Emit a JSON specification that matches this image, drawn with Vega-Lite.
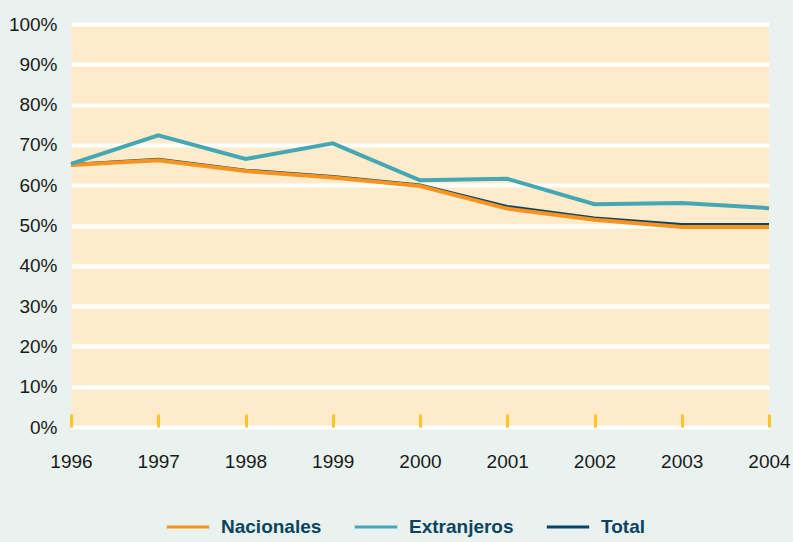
{
  "$schema": "https://vega.github.io/schema/vega-lite/v6.json",
  "width": 698,
  "height": 403,
  "autosize": "none",
  "padding": {"left": 71, "top": 24, "right": 24, "bottom": 115},
  "background": "#e9f2ef",
  "config": {
    "view": {"fill": "#fdebcc", "stroke": null},
    "font": "Liberation Sans"
  },
  "data": {
    "values": [
      {"year": 1996, "serie": "Nacionales", "value": 0.650},
      {"year": 1997, "serie": "Nacionales", "value": 0.662},
      {"year": 1998, "serie": "Nacionales", "value": 0.635},
      {"year": 1999, "serie": "Nacionales", "value": 0.619},
      {"year": 2000, "serie": "Nacionales", "value": 0.598},
      {"year": 2001, "serie": "Nacionales", "value": 0.542},
      {"year": 2002, "serie": "Nacionales", "value": 0.514},
      {"year": 2003, "serie": "Nacionales", "value": 0.496},
      {"year": 2004, "serie": "Nacionales", "value": 0.496},
      {"year": 1996, "serie": "Extranjeros", "value": 0.653},
      {"year": 1997, "serie": "Extranjeros", "value": 0.724},
      {"year": 1998, "serie": "Extranjeros", "value": 0.665},
      {"year": 1999, "serie": "Extranjeros", "value": 0.704},
      {"year": 2000, "serie": "Extranjeros", "value": 0.612},
      {"year": 2001, "serie": "Extranjeros", "value": 0.616},
      {"year": 2002, "serie": "Extranjeros", "value": 0.553},
      {"year": 2003, "serie": "Extranjeros", "value": 0.556},
      {"year": 2004, "serie": "Extranjeros", "value": 0.543},
      {"year": 1996, "serie": "Total", "value": 0.652},
      {"year": 1997, "serie": "Total", "value": 0.665},
      {"year": 1998, "serie": "Total", "value": 0.638},
      {"year": 1999, "serie": "Total", "value": 0.622},
      {"year": 2000, "serie": "Total", "value": 0.601},
      {"year": 2001, "serie": "Total", "value": 0.548},
      {"year": 2002, "serie": "Total", "value": 0.519},
      {"year": 2003, "serie": "Total", "value": 0.503},
      {"year": 2004, "serie": "Total", "value": 0.503}
    ]
  },
  "encoding": {
    "x": {
      "field": "year",
      "type": "quantitative",
      "scale": {"domain": [1996, 2004], "nice": false, "zero": false},
      "axis": {
        "title": null,
        "values": [1996, 1997, 1998, 1999, 2000, 2001, 2002, 2003, 2004],
        "format": "d",
        "grid": false,
        "domain": false,
        "ticks": true,
        "tickColor": "#fcc62a",
        "tickWidth": 3,
        "tickSize": -13,
        "labelPadding": 38,
        "labelFontSize": 19,
        "labelColor": "#1a1a1a",
        "labelFlush": false,
        "labelOverlap": false
      }
    },
    "y": {
      "field": "value",
      "type": "quantitative",
      "scale": {"domain": [0, 1], "nice": false},
      "axis": {
        "title": null,
        "values": [0, 0.1, 0.2, 0.3, 0.4, 0.5, 0.6, 0.7, 0.8, 0.9, 1],
        "format": ".0%",
        "grid": true,
        "gridColor": "#ffffff",
        "gridWidth": 4,
        "gridOpacity": 1,
        "domain": false,
        "ticks": false,
        "labelPadding": 14,
        "labelFontSize": 19,
        "labelColor": "#1a1a1a",
        "labelFlush": false
      }
    },
    "color": {
      "field": "serie",
      "type": "nominal",
      "sort": ["Nacionales", "Extranjeros", "Total"],
      "scale": {
        "domain": ["Nacionales", "Extranjeros", "Total"],
        "range": ["#f7931e", "#45a7b3", "#0b4460"]
      },
      "legend": {
        "title": null,
        "orient": "none",
        "direction": "horizontal",
        "legendX": 94,
        "legendY": 480,
        "symbolType": "stroke",
        "symbolSize": 1800,
        "symbolStrokeWidth": 3,
        "labelFontSize": 19,
        "labelFontWeight": "bold",
        "labelColor": "#0b4460",
        "labelOffset": 10,
        "columnPadding": 26
      }
    }
  },
  "layer": [
    {
      "transform": [{"filter": "datum.serie === 'Total'"}],
      "mark": {"type": "line", "strokeWidth": 2.5, "strokeJoin": "miter"}
    },
    {
      "transform": [{"filter": "datum.serie === 'Nacionales'"}],
      "mark": {"type": "line", "strokeWidth": 4, "strokeJoin": "miter"}
    },
    {
      "transform": [{"filter": "datum.serie === 'Extranjeros'"}],
      "mark": {"type": "line", "strokeWidth": 4, "strokeJoin": "miter"}
    }
  ]
}
